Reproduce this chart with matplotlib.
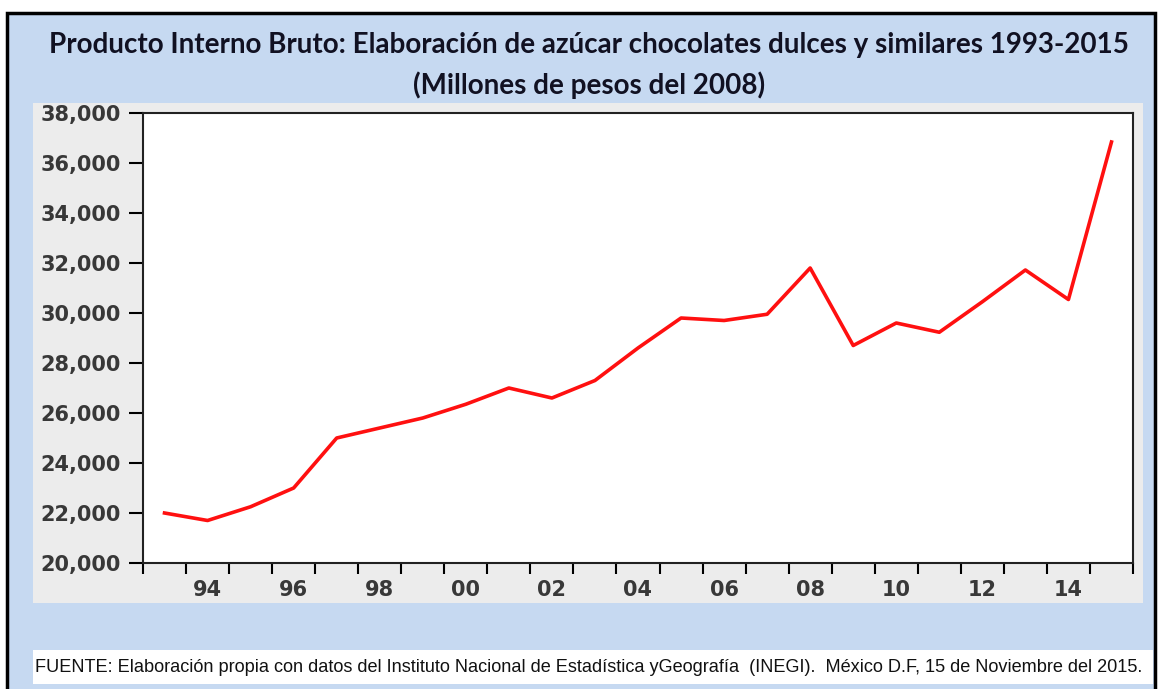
import matplotlib.pyplot as plt
import matplotlib.ticker as mticker
from matplotlib.patches import Rectangle

years = list(range(1993, 2016))
pib = [22000, 21700, 22250, 23000, 25000, 25400, 25800, 26350, 27000, 26600,
       27300, 28600, 29800, 29700, 29950, 31800, 28700, 29600, 29230, 30450,
       31720, 30540, 36840]
label_years = list(range(1994, 2015, 2))
labels = ['%02d' % (y % 100) for y in label_years]

fig = plt.figure(figsize=(11.58, 6.89), dpi=100)
fig.patch.set_facecolor('white')

# panels behind the chart
fig.patches.append(Rectangle((7/1158, -0.01), 1148/1158, 1 - 13/689 + 0.01,
                             transform=fig.transFigure, facecolor='#c6d9f1',
                             edgecolor='black', linewidth=2.5, zorder=-3))
fig.patches.append(Rectangle((33/1158, 1 - 603/689), 1110/1158, 500/689,
                             transform=fig.transFigure, facecolor='#ececec',
                             edgecolor='none', zorder=-2))
fig.patches.append(Rectangle((33/1158, 1 - 684/689), 1120/1158, 34/689,
                             transform=fig.transFigure, facecolor='white',
                             edgecolor='none', zorder=-2))

ax = fig.add_axes([143/1158, 1 - 563/689, 990/1158, 450/689])
ax.set_facecolor('white')
ax.plot(years, pib, color='#ff1010', linewidth=2.6)

ax.set_xlim(1992.5, 2015.5)
ax.set_ylim(20000, 38000)
ax.yaxis.set_major_locator(mticker.MultipleLocator(2000))
ax.yaxis.set_major_formatter(mticker.FuncFormatter(lambda v, p: '{:,.0f}'.format(v)))

# ticks at the year boundaries, labels centred on even years
ax.set_xticks([y + 0.5 for y in range(1992, 2016)])
ax.set_xticklabels([])
ax.set_xticks(label_years, minor=True)
ax.set_xticklabels(labels, minor=True)
ax.tick_params(axis='x', which='major', direction='out', length=8, width=1.5)
ax.tick_params(axis='x', which='minor', length=0, pad=12, labelsize=15,
               labelcolor='#383838')
ax.tick_params(axis='y', direction='out', length=10, width=1.5, labelsize=15,
               labelcolor='#383838', pad=6)
for lab in ax.get_xticklabels(minor=True) + ax.get_yticklabels():
    lab.set_fontweight('bold')

for s in ax.spines.values():
    s.set_linewidth(1.5)
    s.set_color('#222222')

fig.text(0.509, 1 - 45/689, 'Producto Interno Bruto: Elaboración de azúcar chocolates dulces y similares 1993-2015',
         ha='center', va='center', fontsize=20, fontweight='bold', family='Lato', color='#111122')
fig.text(0.509, 1 - 85/689, '(Millones de pesos del 2008)',
         ha='center', va='center', fontsize=20, fontweight='bold', family='Lato', color='#111122')
fig.text(35/1158, 1 - 667/689,
         'FUENTE: Elaboración propia con datos del Instituto Nacional de Estadística yGeografía  (INEGI).  México D.F, 15 de Noviembre del 2015.',
         ha='left', va='center', fontsize=13.1, family='Liberation Sans', color='#111111')

fig.savefig('out.png', dpi=100)
